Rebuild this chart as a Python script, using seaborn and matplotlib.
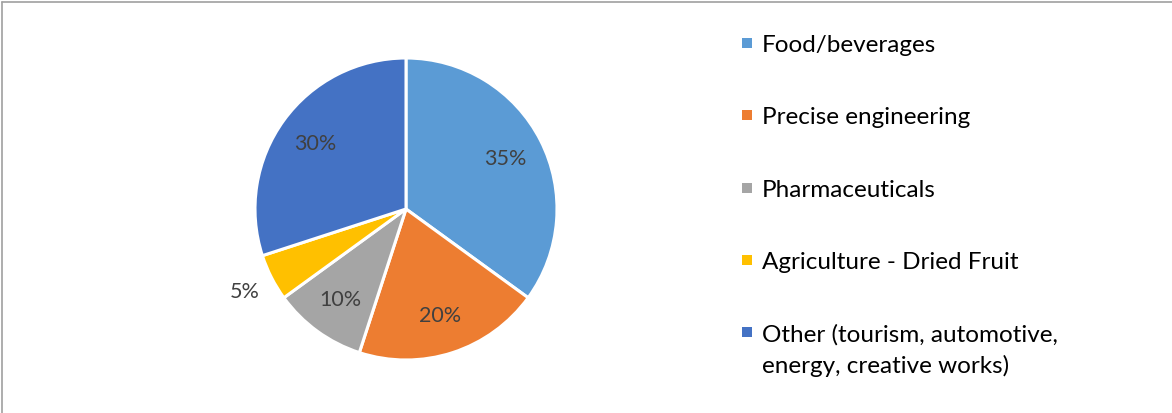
import matplotlib
matplotlib.use("Agg")
import matplotlib.pyplot as plt
from matplotlib.patches import Rectangle
from matplotlib.lines import Line2D
import numpy as np
import seaborn as sns

# Export sectors and their shares (%)
sectors = [
    "Food/beverages",
    "Precise engineering",
    "Pharmaceuticals",
    "Agriculture - Dried Fruit",
    "Other (tourism, automotive,\nenergy, creative works)",
]
shares = [35, 20, 10, 5, 30]
colors = ["#5B9BD5", "#ED7D31", "#A5A5A5", "#FFC000", "#4472C4"]

sns.set_theme(style="white")
plt.rcParams["font.family"] = ["Lato", "DejaVu Sans"]

W, H = 1172, 414
fig = plt.figure(figsize=(W / 100, H / 100), dpi=100)
fig.patch.set_facecolor("white")

# pie axes placed by pixel geometry
cx, cy, r = 406, 210, 151
ax = fig.add_axes([(cx - r) / W, (H - cy - r) / H, 2 * r / W, 2 * r / H])
palette = sns.color_palette(colors)
wedges, texts, autotexts = ax.pie(
    shares,
    colors=palette,
    startangle=90,
    counterclock=False,
    autopct=lambda p: f"{p:.0f}%",
    pctdistance=0.74,
    wedgeprops=dict(edgecolor="white", linewidth=2.2),
    textprops=dict(color="#404040", fontsize=15.5),
)
ax.set_xlim(-1, 1)
ax.set_ylim(-1, 1)
ax.set_aspect("equal")
ax.axis("off")

# the thin slice gets its label outside the pie
for w, t, v in zip(wedges, autotexts, shares):
    if v < 8:
        ang = np.deg2rad((w.theta1 + w.theta2) / 2)
        t.set_position((1.2 * np.cos(ang), 1.2 * np.sin(ang)))

# legend drawn as a column of square markers and labels
lx, ly0, dy = 747, 44, 72.3
sq = 10
line_gap = 32
for i, (lab, c) in enumerate(zip(sectors, colors)):
    y = ly0 + i * dy
    fig.patches.append(Rectangle(((lx - sq / 2) / W, (H - y - sq / 2) / H), sq / W, sq / H,
                                 transform=fig.transFigure, facecolor=c, edgecolor="none"))
    for k, part in enumerate(lab.split("\n")):
        fig.text(762 / W, (H - y - 8 - k * line_gap) / H, part, fontsize=17.5,
                 color="black", ha="left", va="baseline")

# frame lines on the left and top
fig.add_artist(Line2D([2 / W, 2 / W], [0, 1 - 3 / H], transform=fig.transFigure,
                      color="#A0A0A0", linewidth=1.2))
fig.add_artist(Line2D([2 / W, 1], [1 - 3 / H, 1 - 3 / H], transform=fig.transFigure,
                      color="#A0A0A0", linewidth=1.2))

fig.savefig("out.png", dpi=100, facecolor="white")
